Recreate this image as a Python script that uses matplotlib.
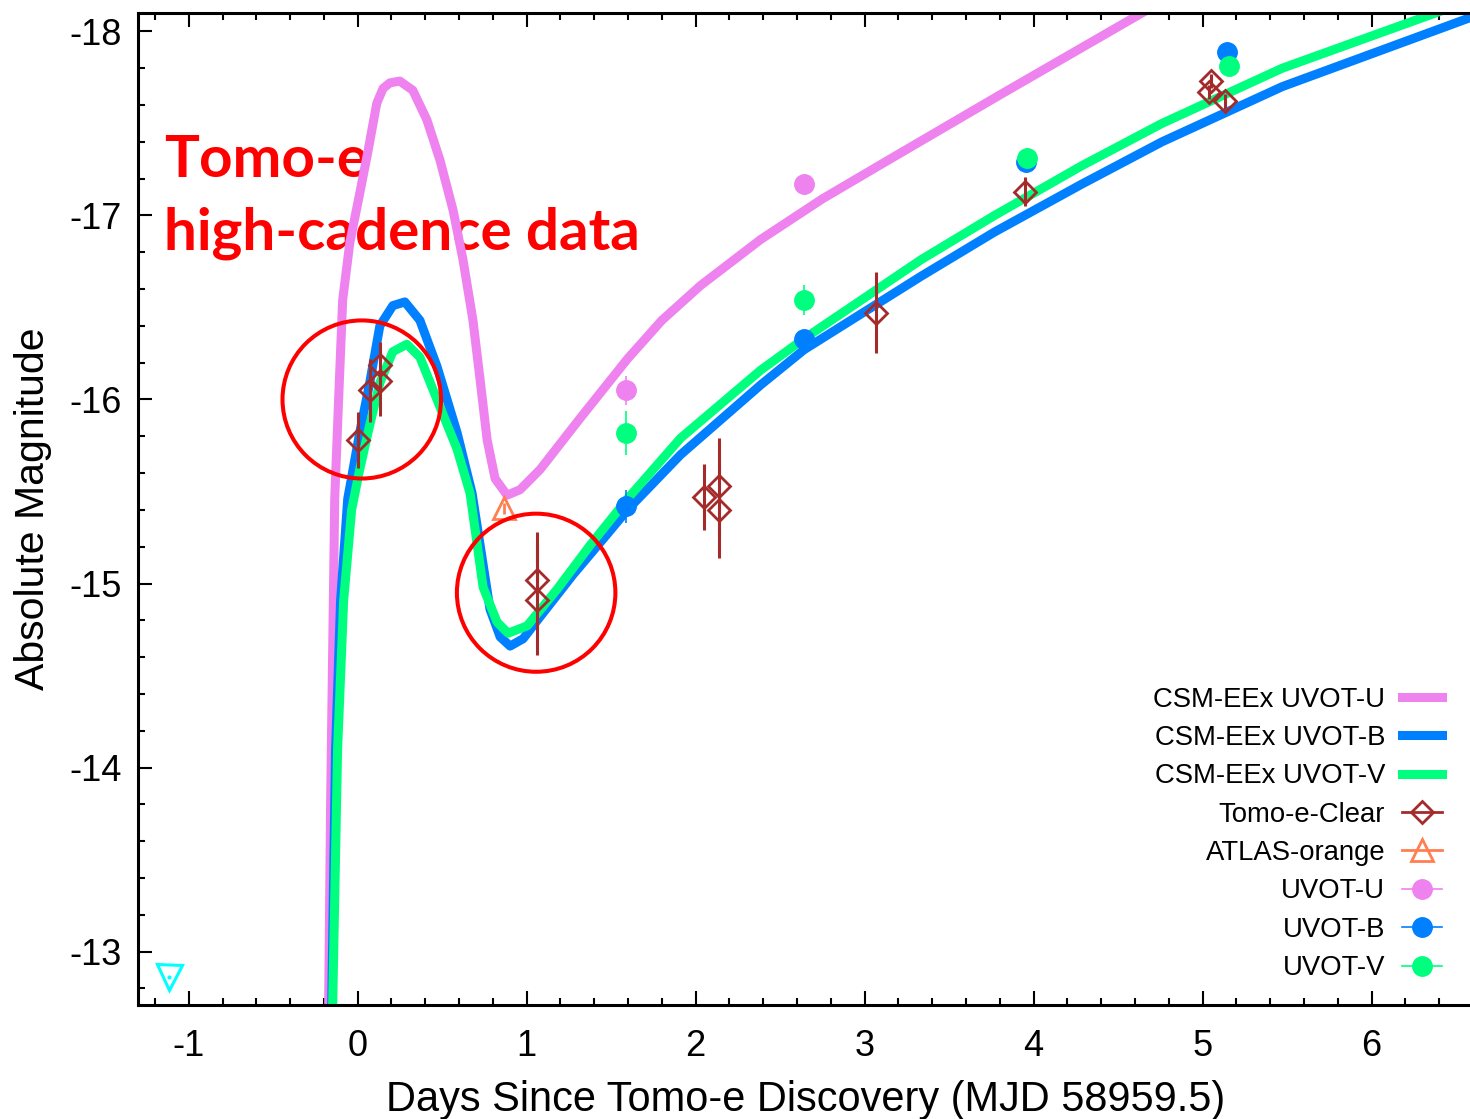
import numpy as np
import matplotlib.pyplot as plt
from matplotlib.lines import Line2D
from matplotlib.patches import Ellipse
from matplotlib.ticker import MultipleLocator

plt.rcParams['font.family'] = ['Liberation Sans', 'DejaVu Sans']
plt.rcParams['axes.unicode_minus'] = False

# CSM-EEx model light curves (days since discovery, absolute mag)
u_day = [-0.172, -0.160, -0.148, -0.136, -0.113, -0.089, -0.047, 0.012, 0.059, 0.113,
         0.150, 0.190, 0.249, 0.326, 0.409, 0.487, 0.564, 0.623, 0.682, 0.724, 0.766,
         0.813, 0.884, 0.961, 1.080, 1.318, 1.596, 1.800, 2.030, 2.386, 2.750, 3.139,
         3.810, 4.641]
u_mag = [-12.71, -13.83, -14.64, -15.46, -16.00, -16.54, -16.85, -17.12, -17.34, -17.61,
         -17.69, -17.72, -17.73, -17.68, -17.52, -17.30, -17.03, -16.76, -16.43, -16.11, -15.78,
         -15.57, -15.48, -15.51, -15.62, -15.90, -16.22, -16.43, -16.62, -16.87, -17.09, -17.30,
         -17.66, -18.10]

b_day = [-0.154, -0.131, -0.101, -0.059, 0.012, 0.071, 0.131, 0.208, 0.279, 0.368,
         0.469, 0.588, 0.677, 0.783, 0.843, 0.902, 0.979, 1.080, 1.276, 1.478,
         1.596, 1.911, 2.386, 2.641, 3.335, 3.769, 4.285, 4.760, 5.472, 6.599]
b_mag = [-12.71, -14.10, -14.91, -15.46, -15.82, -16.09, -16.40, -16.51, -16.53, -16.43,
         -16.18, -15.82, -15.49, -14.86, -14.71, -14.66, -14.70, -14.82, -15.05, -15.27,
         -15.40, -15.70, -16.08, -16.27, -16.67, -16.91, -17.17, -17.40, -17.70, -18.08]

v_day = [-0.148, -0.119, -0.083, -0.036, 0.012, 0.071, 0.131, 0.208, 0.291, 0.368,
         0.469, 0.588, 0.665, 0.742, 0.825, 0.890, 1.003, 1.181, 1.377, 1.596,
         1.911, 2.386, 2.641, 3.335, 3.769, 4.285, 4.760, 5.472, 6.439]
v_mag = [-12.71, -14.10, -14.91, -15.40, -15.62, -15.86, -16.09, -16.26, -16.30, -16.23,
         -16.00, -15.73, -15.49, -14.98, -14.79, -14.73, -14.77, -14.97, -15.21, -15.46,
         -15.79, -16.16, -16.33, -16.76, -17.00, -17.27, -17.50, -17.80, -18.12]

# observations
tomo_day = [0.00, 0.07, 0.13, 0.13, 1.06, 1.06, 2.05, 2.14, 2.14, 3.07, 3.95, 5.04, 5.05, 5.13]
tomo_mag = [-15.78, -16.05, -16.10, -16.19, -15.02, -14.91, -15.47, -15.53, -15.40,
            -16.47, -17.13, -17.67, -17.73, -17.62]
tomo_err = [0.15, 0.17, 0.19, 0.12, 0.26, 0.30, 0.18, 0.26, 0.26, 0.22, 0.08, 0.04, 0.04, 0.04]

atlas_day = [0.866]
atlas_mag = [-15.41]
atlas_err = [0.03]

uvot_u_day = [1.585, 2.641]
uvot_u_mag = [-16.05, -17.17]
uvot_u_err = [0.08, 0.05]

uvot_b_day = [1.585, 2.641, 3.953, 5.145]
uvot_b_mag = [-15.42, -16.33, -17.29, -17.89]
uvot_b_err = [0.09, 0.05, 0.04, 0.04]

uvot_v_day = [1.585, 2.641, 3.959, 5.157]
uvot_v_mag = [-15.82, -16.54, -17.31, -17.81]
uvot_v_err = [0.12, 0.08, 0.04, 0.04]

limit_day = [-1.116]
limit_mag = [-12.86]

# highlighted regions (center day, center mag)
circle_day = [0.024, 1.056]
circle_mag = [-16.00, -14.95]

c_u = '#ee82ee'
c_b = '#0080ff'
c_v = '#00ff7f'
c_tomo = '#a52a2a'
c_atlas = '#ff7f50'

fig = plt.figure(figsize=(14.7, 11.19), dpi=100)
ax = fig.add_axes([0.0939, 0.1019, 0.9081, 0.8865])

ax.text(-1.145, -17.21, 'Tomo-e', color='red', fontsize=42, fontweight='bold',
        family='Lato', zorder=1)
ax.text(-1.145, -16.815, 'high-cadence data', color='red', fontsize=42, fontweight='bold',
        family='Lato', zorder=1)

ax.plot(u_day, u_mag, color=c_u, lw=6.5, solid_joinstyle='round', zorder=2)
ax.plot(b_day, b_mag, color=c_b, lw=6.5, solid_joinstyle='round', zorder=2)
ax.plot(v_day, v_mag, color=c_v, lw=6.5, solid_joinstyle='round', zorder=2)

ax.errorbar(uvot_u_day, uvot_u_mag, yerr=uvot_u_err, fmt='o', color=c_u, ms=14, elinewidth=1.2, capsize=0, zorder=3)
ax.errorbar(uvot_b_day, uvot_b_mag, yerr=uvot_b_err, fmt='o', color=c_b, ms=14, elinewidth=1.2, capsize=0, zorder=3)
ax.errorbar(uvot_v_day, uvot_v_mag, yerr=uvot_v_err, fmt='o', color=c_v, ms=14, elinewidth=1.2, capsize=0, zorder=3)

ax.errorbar(atlas_day, atlas_mag, yerr=atlas_err, fmt='^', color=c_atlas, ms=16, mfc='none', mew=2,
            elinewidth=2, capsize=0, zorder=4)
ax.errorbar(tomo_day, tomo_mag, yerr=tomo_err, fmt='D', color=c_tomo, ms=11, mfc='none', mew=2,
            elinewidth=2.2, capsize=0, zorder=4)

ax.plot(limit_day, limit_mag, 'v', color='cyan', ms=18, mfc='none', mew=2.2, zorder=4)
ax.plot(limit_day, limit_mag, '.', color='cyan', ms=4, zorder=4)

for d, m in zip(circle_day, circle_mag):
    ax.add_patch(Ellipse((d, m), 0.938, 0.859, fill=False, ec='red', lw=2.9, zorder=5))

ax.set_xlim(-1.30, 6.60)
ax.set_ylim(-12.71, -18.10)

ax.xaxis.set_major_locator(MultipleLocator(1))
ax.xaxis.set_minor_locator(MultipleLocator(0.2))
ax.yaxis.set_major_locator(MultipleLocator(1))
ax.yaxis.set_minor_locator(MultipleLocator(0.2))
ax.tick_params(which='both', direction='in', top=True, right=False, width=1.5)
ax.tick_params(which='major', length=10, labelsize=26, pad=12)
ax.tick_params(axis='x', which='major', pad=17)
ax.tick_params(which='minor', length=5)
for s in ax.spines.values():
    s.set_linewidth(2.2)

ax.set_xlabel('Days Since Tomo-e Discovery (MJD 58959.5)', fontsize=29.9, labelpad=12)
ax.set_ylabel('Absolute Magnitude', fontsize=29.5, labelpad=12)

handles = [
    Line2D([], [], color=c_u, lw=6.5),
    Line2D([], [], color=c_b, lw=6.5),
    Line2D([], [], color=c_v, lw=6.5),
    Line2D([], [], color=c_tomo, lw=2, marker='D', ms=11, mfc='none', mew=2),
    Line2D([], [], color=c_atlas, lw=2, marker='^', ms=16, mfc='none', mew=2),
    Line2D([], [], color=c_u, lw=1.2, marker='o', ms=14),
    Line2D([], [], color=c_b, lw=1.2, marker='o', ms=14),
    Line2D([], [], color=c_v, lw=1.2, marker='o', ms=14),
]
labels = ['CSM-EEx UVOT-U', 'CSM-EEx UVOT-B', 'CSM-EEx UVOT-V', 'Tomo-e-Clear',
          'ATLAS-orange', 'UVOT-U', 'UVOT-B', 'UVOT-V']
ax.legend(handles, labels, loc='lower right', bbox_to_anchor=(0.9765, 0.024), frameon=False,
          fontsize=19.8, markerfirst=False, handlelength=1.45, handletextpad=0.6,
          labelspacing=0.45, borderpad=0, borderaxespad=0)

fig.savefig('out.png', dpi=100)
